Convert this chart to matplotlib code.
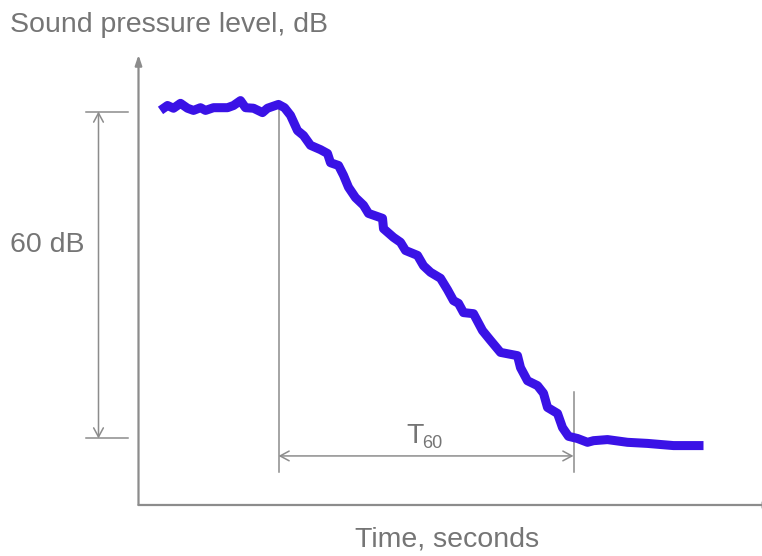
import matplotlib.pyplot as plt

# decay curve (time in s, level in dB)
time_s = [0.22, 0.29, 0.35, 0.42, 0.49, 0.55, 0.62, 0.67, 0.75, 0.89, 0.95, 1.02,
          1.07, 1.15, 1.24, 1.29, 1.40, 1.46, 1.52, 1.59, 1.65, 1.72, 1.82, 1.89,
          1.92, 2.00, 2.05, 2.10, 2.17, 2.25, 2.30, 2.44, 2.45, 2.55, 2.62, 2.67,
          2.79, 2.85, 2.92, 3.02, 3.09, 3.15, 3.20, 3.25, 3.35, 3.44, 3.52, 3.62,
          3.79, 3.82, 3.89, 3.99, 4.05, 4.09, 4.19, 4.24, 4.30, 4.39, 4.49, 4.55,
          4.69, 4.89, 5.09, 5.35, 5.65]
level_db = [80.2, 81.1, 80.6, 81.5, 80.6, 80.2, 80.7, 80.2, 80.7, 80.7, 81.1, 82.0,
            80.7, 80.6, 79.8, 80.6, 81.3, 80.7, 79.3, 76.5, 75.6, 73.8, 73.0, 72.3,
            70.6, 70.1, 68.3, 66.1, 64.2, 62.8, 61.3, 60.4, 58.5, 56.9, 56.0, 54.5,
            53.6, 51.7, 50.5, 49.4, 47.3, 45.3, 44.8, 43.1, 42.9, 39.8, 38.0, 35.8,
            35.2, 33.0, 30.6, 29.7, 28.3, 25.7, 24.6, 22.0, 20.4, 20.0, 19.3, 19.6,
            19.8, 19.3, 19.1, 18.7, 18.7]

level_top = 80
level_bottom = 20
decay_start = 1.40
decay_end = 4.35

title = "Sound pressure level, dB"
xlabel = "Time, seconds"
span_label = "60 dB"

blue = "#3a12e6"
grey = "#8c8c8c"
text_grey = "#757575"
font = "Liberation Sans"

fig = plt.figure(figsize=(7.62, 5.56), dpi=100)
ax = fig.add_axes([0, 0, 1, 1])
ax.set_xlim(-1.385, 6.235)
ax.set_ylim(-1.56, 100.46)
ax.axis("off")

# axes with arrow tips
y0 = 7.8
axis_arrow = dict(arrowstyle="-|>,head_length=0.6,head_width=0.2",
                  color=grey, lw=1.6, shrinkA=0, shrinkB=0)
ax.annotate("", xy=(0, 90.4), xytext=(0, y0), arrowprops=axis_arrow,
            annotation_clip=False)
ax.annotate("", xy=(6.36, y0), xytext=(0, y0), arrowprops=axis_arrow,
            annotation_clip=False)

dim_arrow = dict(arrowstyle="<->,head_length=0.65,head_width=0.35",
                 color=grey, lw=1.1, shrinkA=0, shrinkB=0)

# 60 dB span
for lv in (level_top, level_bottom):
    ax.plot([-0.525, -0.105], [lv, lv], color=grey, lw=1.1)
ax.annotate("", xy=(-0.40, level_top), xytext=(-0.40, level_bottom),
            arrowprops=dim_arrow)

# T60 span
ax.plot([decay_start, decay_start], [81.5, 13.85], color=grey, lw=1.1)
ax.plot([decay_end, decay_end], [28.5, 13.85], color=grey, lw=1.1)
ax.annotate("", xy=(decay_start, 16.8), xytext=(decay_end, 16.8),
            arrowprops=dim_arrow)

ax.plot(time_s, level_db, color=blue, lw=6.5, solid_capstyle="butt",
        solid_joinstyle="round", zorder=5)

# texts
fig.text(10 / 762, 1 - 32 / 556, title, fontsize=20.5, color=text_grey,
         family=font, ha="left", va="baseline")
fig.text(447 / 762, 1 - 546 / 556, xlabel, fontsize=20.5, color=text_grey,
         family=font, ha="center", va="baseline")
fig.text(10 / 762, 1 - 252 / 556, span_label, fontsize=20.5, color=text_grey,
         family=font, ha="left", va="baseline")
mid = (decay_start + decay_end) / 2
ax.text(mid - 0.02, 19.2, "T", fontsize=20.5, color=text_grey, family=font,
        ha="right", va="baseline")
ax.text(mid - 0.04, 18.3, "60", fontsize=13, color=text_grey, family=font,
        ha="left", va="baseline")

fig.savefig("out.png", dpi=100)
